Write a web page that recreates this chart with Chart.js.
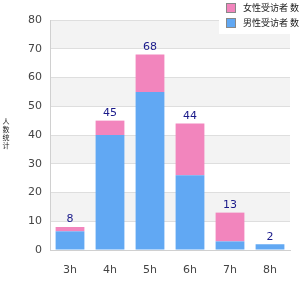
<!DOCTYPE html>
<html>
<head>
<meta charset="utf-8">
<script src="https://cdn.jsdelivr.net/npm/chart.js@4"></script>
<style>
  html, body { margin: 0; padding: 0; background: #fff; }
  #wrap { width: 300px; height: 300px; }
</style>
</head>
<body>
<div id="wrap"><canvas id="hours-chart" width="300" height="300"></canvas></div>
<script>
var hours = ["3h", "4h", "5h", "6h", "7h", "8h"];
var blueValues = [6.5, 40, 55, 26, 3, 2];
var pinkValues = [1.5, 5, 13, 18, 10, 0];
var totals = [8, 45, 68, 44, 13, 2];
var seriesNames = ["女性受访者 数", "男性受访者 数"];
var axisTitle = "人数统计";

// alternating grey bands behind the plot
var bandPlugin = {
  id: 'bands',
  beforeDraw: function(chart) {
    var c = chart.ctx, a = chart.chartArea, y = chart.scales.y;
    c.save();
    for (var v = 10; v < 80; v += 20) {
      var top = y.getPixelForValue(v + 10), bot = y.getPixelForValue(v);
      c.fillStyle = '#f3f3f3';
      c.fillRect(a.left, top, a.right - a.left, bot - top);
    }
    c.restore();
  }
};

// totals above stacks, vertical axis title, legend box top right
var extrasPlugin = {
  id: 'extras',
  afterDraw: function(chart) {
    var c = chart.ctx, x = chart.scales.x, y = chart.scales.y;
    c.save();
    c.font = '11px "DejaVu Sans", sans-serif';
    c.fillStyle = '#1a1a8a';
    c.textAlign = 'center';
    c.textBaseline = 'bottom';
    for (var i = 0; i < totals.length; i++) {
      c.fillText(String(totals[i]), x.getPixelForValue(i), y.getPixelForValue(totals[i]) - 2);
    }
    // y title, one character under the other
    c.font = '7px "Noto Sans CJK SC", sans-serif';
    c.fillStyle = '#222';
    c.textBaseline = 'middle';
    for (var j = 0; j < axisTitle.length; j++) {
      c.fillText(axisTitle[j], 6, 121 + j * 8);
    }
    // legend
    c.fillStyle = '#ffffff';
    c.fillRect(219, 0, 81, 34);
    var items = [chart.data.datasets[1], chart.data.datasets[0]];
    c.font = '9px "Noto Sans CJK SC", sans-serif';
    c.textAlign = 'left';
    for (var k = 0; k < items.length; k++) {
      var yy = 8 + k * 15;
      c.fillStyle = items[k].backgroundColor;
      c.fillRect(227, yy - 4, 8, 8);
      c.strokeStyle = '#888';
      c.lineWidth = 1;
      c.strokeRect(226.5, yy - 4.5, 9, 9);
      c.fillStyle = '#222';
      c.fillText(items[k].label, 243, yy);
    }
    c.restore();
  }
};

var ctx = document.getElementById("hours-chart").getContext('2d');
var myChart = new Chart(ctx, {
  type: 'bar',
  data: {
    labels: hours,
    datasets: [{
      label: seriesNames[1],
      data: blueValues,
      backgroundColor: '#61a8f3',
      barPercentage: 0.72,
      categoryPercentage: 1
    }, {
      label: seriesNames[0],
      data: pinkValues,
      backgroundColor: '#f285bd',
      barPercentage: 0.72,
      categoryPercentage: 1
    }]
  },
  options: {
    responsive: false,
    animation: false,
    layout: { padding: { top: 20, right: 10, bottom: 20, left: 0 } },
    plugins: {
      legend: { display: false },
      tooltip: { enabled: false }
    },
    scales: {
      x: {
        stacked: true,
        grid: { display: false },
        border: { color: '#d0d0d0' },
        ticks: { color: '#444', font: { size: 11, family: '"DejaVu Sans", sans-serif' }, padding: 6 },
        afterFit: function(s) { s.height = 30; }
      },
      y: {
        stacked: true,
        min: 0,
        max: 80,
        ticks: { stepSize: 10, color: '#444', font: { size: 11, family: '"DejaVu Sans", sans-serif' }, padding: 8 },
        grid: { color: '#dedede', drawTicks: false },
        border: { color: '#d0d0d0' },
        afterFit: function(s) { s.width = 50; }
      }
    }
  },
  plugins: [bandPlugin, extrasPlugin]
});
</script>
</body>
</html>
